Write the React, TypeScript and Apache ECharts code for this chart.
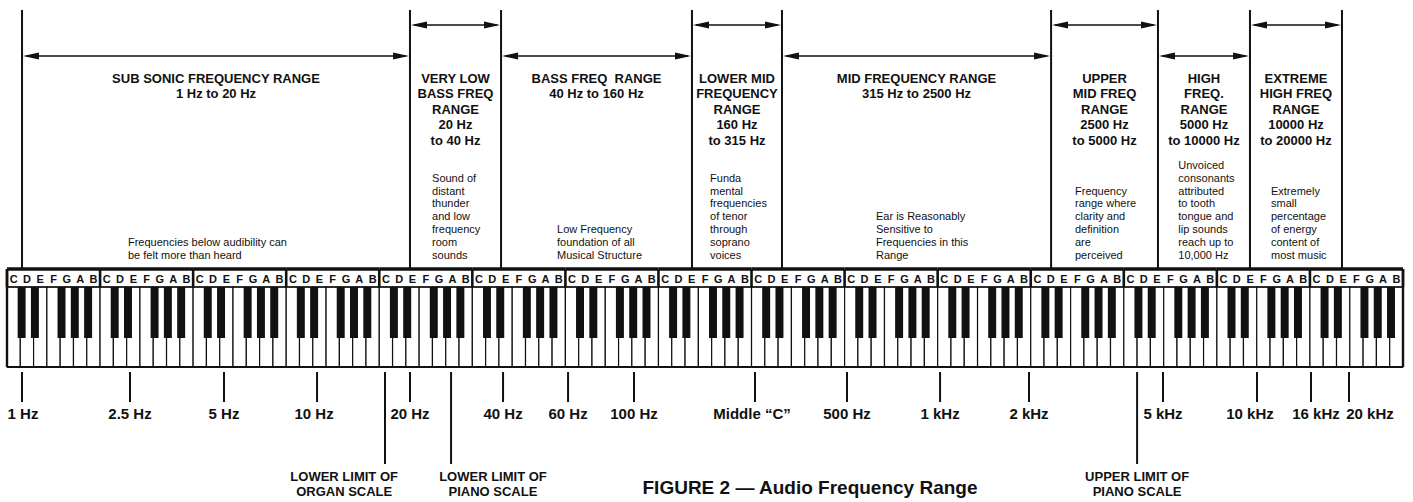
import React, { useEffect, useRef } from "react";
import * as echarts from "echarts";

// ---------- data ----------
const NOTE_NAMES = ["C", "D", "E", "F", "G", "A", "B"];
const OCTAVE_COUNT = 15;
// white-key index within an octave after which a black key sits
const BLACK_KEY_AFTER = [0, 1, 3, 4, 5];

// range boundaries, in white-key units from the left edge of the keyboard
const RANGE_BOUNDS = [1.13, 30.31, 37.16, 51.52, 58.29, 78.53, 86.57, 93.49, 100.41];
const RANGE_TITLES = [
  ["SUB SONIC FREQUENCY RANGE", "1 Hz to 20 Hz"],
  ["VERY LOW", "BASS FREQ", "RANGE", "20 Hz", "to 40 Hz"],
  ["BASS FREQ  RANGE", "40 Hz to 160 Hz"],
  ["LOWER MID", "FREQUENCY", "RANGE", "160 Hz", "to 315 Hz"],
  ["MID FREQUENCY RANGE", "315 Hz to 2500 Hz"],
  ["UPPER", "MID FREQ", "RANGE", "2500 Hz", "to 5000 Hz"],
  ["HIGH", "FREQ.", "RANGE", "5000 Hz", "to 10000 Hz"],
  ["EXTREME", "HIGH FREQ", "RANGE", "10000 Hz", "to 20000 Hz"],
];
const RANGE_NOTES = [
  ["Frequencies below audibility can", "be felt more than heard"],
  ["Sound of", "distant", "thunder", "and low", "frequency", "room", "sounds"],
  ["Low Frequency", "foundation of all", "Musical Structure"],
  ["Funda", "mental", "frequencies", "of tenor", "through", "soprano", "voices"],
  ["Ear is Reasonably", "Sensitive to", "Frequencies in this", "Range"],
  ["Frequency", "range where", "clarity and", "definition", "are", "perceived"],
  ["Unvoiced", "consonants", "attributed", "to tooth", "tongue and", "lip sounds", "reach up to", "10,000 Hz"],
  ["Extremely", "small", "percentage", "of energy", "content of", "most music"],
];

const TICK_POS = [1.13, 9.25, 16.32, 23.32, 30.31, 37.31, 42.2, 47.16, 56.26, 63.18, 70.18, 76.87, 86.95, 94.02, 98.08, 100.94];
const TICK_LABELS = [
  "1 Hz", "2.5 Hz", "5 Hz", "10 Hz", "20 Hz", "40 Hz", "60 Hz", "100 Hz",
  "Middle \u201CC\u201D", "500 Hz", "1 kHz", "2 kHz", "5 kHz", "10 kHz", "16 kHz", "20 kHz",
];

const LIMIT_POS = [28.43, 33.4, 85.0];
const LIMIT_LABELS = [
  ["LOWER LIMIT OF", "ORGAN SCALE"],
  ["LOWER LIMIT OF", "PIANO SCALE"],
  ["UPPER LIMIT OF", "PIANO SCALE"],
];

const CAPTION = "FIGURE 2 \u2014 Audio Frequency Range";

// ---------- layout (pixels on the inverted y axis, key units on x) ----------
const W = 1413;
const H = 502;
const KEYS_TOTAL = NOTE_NAMES.length * OCTAVE_COUNT;
const VLINE_TOP = 10;
const VLINE_BOTTOM = 268;
const ARROW_HIGH = 25;
const ARROW_LOW = 56;
const TITLE_Y0 = 78;
const TITLE_LH = 15.5;
const BODY_LAST_Y = 255;
const BODY_LH = 12.9;
const BODY_LEFT = [9.1, 31.97, 41.37, 52.88, 65.36, 80.33, 88.1, 95.07];
const BAND_TOP = 269;
const BAND_TEXT_Y = 278.5;
const KEY_TOP = 287;
const BLACK_BOTTOM = 338;
const KEY_BOTTOM = 367;
const BLACK_W = 0.6;
const BLACK_DX = 0.1;
const TICK_TOP = 372;
const TICK_BOTTOM = 402;
const TICK_LABEL_Y = 413;
const TICK_LABEL_DX = [1, 0, 0, -3, 0, 0, 0, 0, -3, 0, 0, 0, 0, -7, 5, 21];
const LIMIT_BOTTOM = 464;
const LIMIT_TEXT_Y0 = 476;
const LIMIT_LH = 15;
const LIMIT_TEXT_SHIFT = [-3.07, 3.15, 0];

const FONT = '"Liberation Sans", Arial, Helvetica, sans-serif';
const INK = "#111";

const whiteKeys: number[][] = [];
for (let o = 0; o < OCTAVE_COUNT; o++) {
  for (let n = 0; n < NOTE_NAMES.length; n++) whiteKeys.push([o * 7 + n, 0]);
}
const blackKeys: number[][] = [];
for (let o = 0; o < OCTAVE_COUNT; o++) {
  for (const b of BLACK_KEY_AFTER) blackKeys.push([o * 7 + b + 1, 0]);
}
const octaves: number[][] = [];
for (let o = 0; o < OCTAVE_COUNT; o++) octaves.push([o * 7, 0]);

function line(x1: number, y1: number, x2: number, y2: number, w: number) {
  return { type: "line", shape: { x1, y1, x2, y2 }, style: { stroke: INK, lineWidth: w } };
}
function text(x: number, y: number, s: string, size: number, weight: string, align = "center") {
  return {
    type: "text",
    x,
    y,
    style: {
      text: s,
      fill: INK,
      fontSize: size,
      fontWeight: weight,
      fontFamily: FONT,
      align,
      verticalAlign: "middle",
    },
  };
}

export default function App() {
  const ref = useRef<HTMLDivElement>(null);
  useEffect(() => {
    if (!ref.current) return;
    const chart = echarts.init(ref.current, undefined, { renderer: "svg" });

    const whiteRender = (params: any, api: any) => {
      const i = api.value(0);
      const [x0, y0] = api.coord([i, KEY_TOP]);
      const [x1, y1] = api.coord([i + 1, KEY_BOTTOM]);
      const [cx, cy] = api.coord([i + 0.5, BAND_TEXT_Y]);
      return {
        type: "group",
        children: [
          { type: "rect", shape: { x: x0, y: y0, width: x1 - x0, height: y1 - y0 }, style: { fill: "#fff", stroke: INK, lineWidth: 1.2 } },
          text(cx, cy, NOTE_NAMES[params.dataIndex % NOTE_NAMES.length], 11, "bold"),
        ],
      };
    };

    const blackRender = (_params: any, api: any) => {
      const p = api.value(0) + BLACK_DX;
      const [x0, y0] = api.coord([p - BLACK_W / 2, KEY_TOP]);
      const [x1, y1] = api.coord([p + BLACK_W / 2, BLACK_BOTTOM]);
      return { type: "rect", shape: { x: x0, y: y0, width: x1 - x0, height: y1 - y0 }, style: { fill: INK } };
    };

    const octaveRender = (params: any, api: any) => {
      const o = api.value(0);
      const [xa, yTop] = api.coord([o, BAND_TOP]);
      const [xb, yKey] = api.coord([o + 7, KEY_TOP]);
      const [, yBot] = api.coord([o, KEY_BOTTOM]);
      const children: any[] = [
        line(xa, yTop, xb, yTop, 3.5),
        line(xa, yKey, xb, yKey, 1.6),
        line(xa, yBot, xb, yBot, 2),
        line(xa, yTop, xa, yKey, 2.6),
      ];
      if (params.dataIndex === 0) children.push(line(xa, yTop, xa, yBot, 2.4));
      if (params.dataIndex === OCTAVE_COUNT - 1) {
        children.push(line(xb, yTop, xb, yKey, 2.6));
        children.push(line(xb, yTop, xb, yBot, 2.4));
      }
      return { type: "group", children };
    };

    const boundRender = (_params: any, api: any) => {
      const [x, y0] = api.coord([api.value(0), VLINE_TOP]);
      const [, y1] = api.coord([api.value(0), VLINE_BOTTOM]);
      return line(x, y0, x, y1, 2);
    };

    const rangeRender = (params: any, api: any) => {
      const i = params.dataIndex;
      const a = api.value(0);
      const b = api.value(1);
      const level = i % 2 === 0 ? ARROW_LOW : ARROW_HIGH;
      const [x0, y] = api.coord([a, level]);
      const [x1] = api.coord([b, level]);
      const L = 17;
      const h = 3.4;
      const children: any[] = [
        line(x0 + 4, y, x1 - 4, y, 1.6),
        { type: "polygon", shape: { points: [[x0 + 1, y], [x0 + L, y - h], [x0 + L, y + h]] }, style: { fill: INK } },
        { type: "polygon", shape: { points: [[x1 - 1, y], [x1 - L, y - h], [x1 - L, y + h]] }, style: { fill: INK } },
      ];
      const [cx] = api.coord([(a + b) / 2, 0]);
      RANGE_TITLES[i].forEach((t, k) => {
        const [, ty] = api.coord([a, TITLE_Y0 + k * TITLE_LH]);
        children.push(text(cx, ty, t, 13, "bold"));
      });
      const notes = RANGE_NOTES[i];
      const [bx] = api.coord([BODY_LEFT[i], 0]);
      notes.forEach((t, k) => {
        const [, ty] = api.coord([a, BODY_LAST_Y - (notes.length - 1 - k) * BODY_LH]);
        children.push(text(bx, ty, t, 11, "normal", "left"));
      });
      return { type: "group", children };
    };

    const tickRender = (params: any, api: any) => {
      const i = params.dataIndex;
      const [x, y0] = api.coord([api.value(0), TICK_TOP]);
      const [, y1] = api.coord([api.value(0), TICK_BOTTOM]);
      const [, ly] = api.coord([api.value(0), TICK_LABEL_Y]);
      return {
        type: "group",
        children: [line(x, y0, x, y1, 2), text(x + TICK_LABEL_DX[i], ly, TICK_LABELS[i], 15, "bold")],
      };
    };

    const limitRender = (params: any, api: any) => {
      const i = params.dataIndex;
      const p = api.value(0);
      const [x, y0] = api.coord([p, TICK_TOP]);
      const [, y1] = api.coord([p, LIMIT_BOTTOM]);
      const [tx] = api.coord([p + LIMIT_TEXT_SHIFT[i], 0]);
      const children: any[] = [line(x, y0, x, y1, 2)];
      LIMIT_LABELS[i].forEach((t, k) => {
        const [, ty] = api.coord([p, LIMIT_TEXT_Y0 + k * LIMIT_LH]);
        children.push(text(tx, ty, t, 13, "bold"));
      });
      return { type: "group", children };
    };

    chart.setOption({
      animation: false,
      backgroundColor: "#ffffff",
      grid: { left: 7, right: W - 1403, top: 0, bottom: 0, containLabel: false },
      xAxis: { type: "value", min: 0, max: KEYS_TOTAL, show: false },
      yAxis: { type: "value", min: 0, max: H, inverse: true, show: false },
      graphic: [
        {
          type: "text",
          x: 810,
          y: 487,
          style: {
            text: CAPTION,
            fill: INK,
            fontSize: 19,
            fontWeight: "bold",
            fontFamily: FONT,
            align: "center",
            verticalAlign: "middle",
          },
        },
      ],
      series: [
        { type: "custom", name: "white keys", data: whiteKeys, renderItem: whiteRender, encode: { x: 0, y: 1 }, clip: false, silent: true },
        { type: "custom", name: "black keys", data: blackKeys, renderItem: blackRender, encode: { x: 0, y: 1 }, clip: false, silent: true },
        { type: "custom", name: "octaves", data: octaves, renderItem: octaveRender, encode: { x: 0, y: 1 }, clip: false, silent: true },
        { type: "custom", name: "bounds", data: RANGE_BOUNDS.map((b) => [b, 0]), renderItem: boundRender, encode: { x: 0, y: 1 }, clip: false, silent: true },
        {
          type: "custom",
          name: "ranges",
          data: RANGE_BOUNDS.slice(0, -1).map((b, i) => [b, RANGE_BOUNDS[i + 1], 0]),
          renderItem: rangeRender,
          encode: { x: [0, 1], y: 2 },
          clip: false,
          silent: true,
        },
        { type: "custom", name: "ticks", data: TICK_POS.map((p) => [p, 0]), renderItem: tickRender, encode: { x: 0, y: 1 }, clip: false, silent: true },
        { type: "custom", name: "limits", data: LIMIT_POS.map((p) => [p, 0]), renderItem: limitRender, encode: { x: 0, y: 1 }, clip: false, silent: true },
      ],
    });
    return () => chart.dispose();
  }, []);
  return <div ref={ref} style={{ position: "fixed", left: 0, top: 0, width: W, height: H, background: "#fff" }} />;
}
